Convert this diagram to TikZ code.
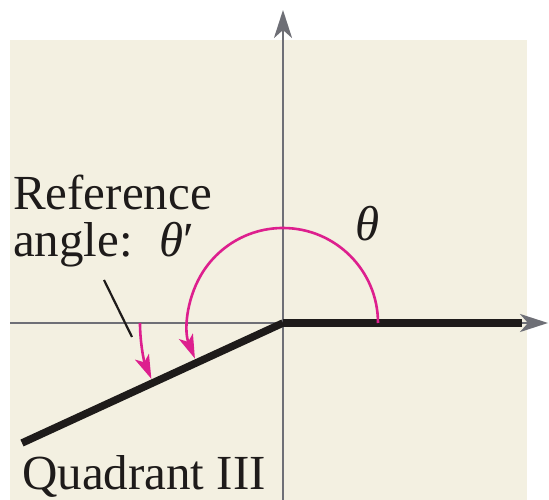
\documentclass[tikz,border=0pt]{standalone}
\usepackage{fontspec}
\setmainfont{Liberation Serif}
\usetikzlibrary{arrows.meta}
\definecolor{bgbeige}{HTML}{F3F0E1}
\definecolor{axgray}{HTML}{6E6F76}
\definecolor{mag}{HTML}{DD1F8E}
\definecolor{ink}{HTML}{1E1B1A}
\tikzset{
  axis/.style={draw=axgray, line width=2.8pt, -{Stealth[length=28pt,width=18pt,inset=8pt]}},
  terminal/.style={draw=ink, line width=7.5pt},
  anglearrow/.style={draw=mag, line width=2.6pt, -{Stealth[length=24pt,width=15pt,inset=6pt]}},
  leader/.style={draw=ink, line width=2.2pt},
  lbl/.style={inner sep=0pt, anchor=base west, font=\fontsize{49}{49}\selectfont, text=ink}
}
\begin{document}
\begin{tikzpicture}[x=1pt,y=1pt]
\useasboundingbox (0,0) rectangle (549,500);
\fill[bgbeige] (10,0) rectangle (527,460);
\coordinate (O) at (283,177);
\coordinate (Vb) at (283,0);
\coordinate (Vt) at (283,490);
\coordinate (Hl) at (10,177);
\coordinate (Hr) at (548,177);
\coordinate (T) at (22,57);
\coordinate (P) at (522,177);
\draw[axis] (Vb) -- (Vt);
\draw[axis] (Hl) -- (Hr);
\draw[terminal] (O) -- (T);
\draw[terminal] (O) -- (P);
% theta arc
\draw[anglearrow] ([shift={(0:95)}]O) arc[start angle=0, end angle=202, radius=95];
% reference angle arc
\draw[anglearrow] ([shift={(180:143)}]O) arc[start angle=180, end angle=203, radius=143];
% labels
\node[lbl] (ref) at (13,290) {Reference};
\node[lbl] (ang) at (13,243) {angle:\hspace{0.55em}\textit{θ}′};
\node[lbl] (th) at (355,259) {\textit{θ}};
\node[lbl] (quad) at (22,10) {Quadrant III};
\coordinate (L1) at (104,220);
\coordinate (L2) at (132,163);
\draw[leader] (L1) -- (L2);
\end{tikzpicture}
\end{document}
